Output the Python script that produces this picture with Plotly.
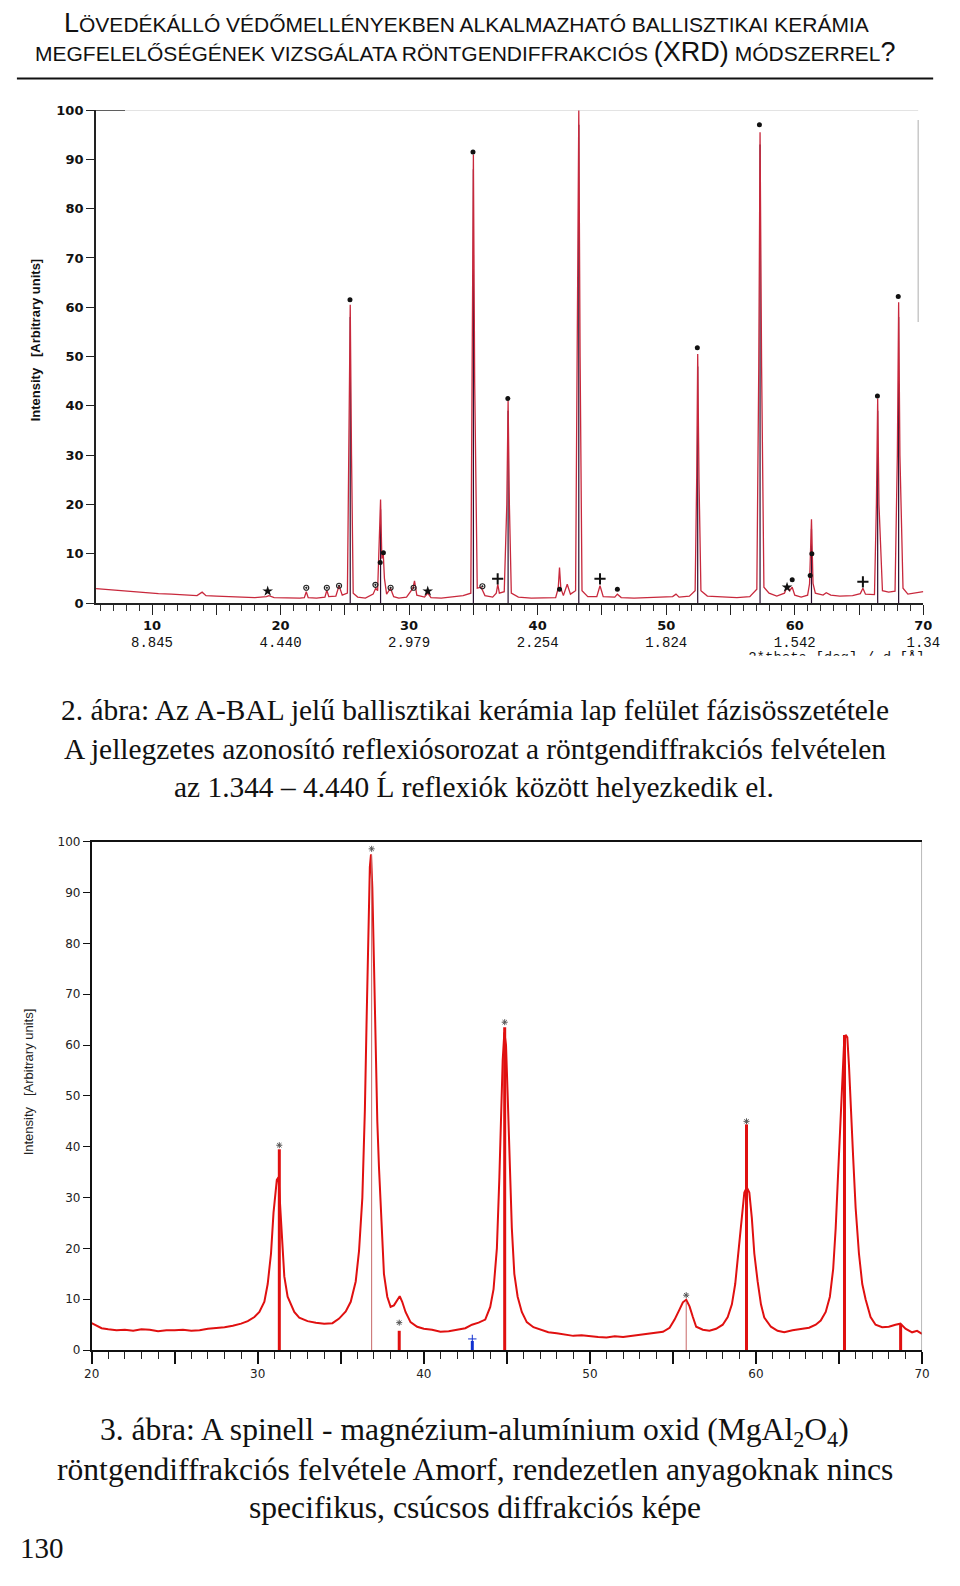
import plotly.graph_objects as go

# The page adds an 8 px body margin round the figure; the figure is sized so
# that figure + margins fit inside the 960 x 1586 window, and nothing is drawn
# outside the figure (which would enlarge the page).
OFF = 8
FW, FH = 960 - 2 * OFF, 1568
def px(v): return min(max((v - OFF) / FW, 0), 1)
def py(v): return min(max(1 - (v - OFF) / FH, 0), 1)

# ---------------- Chart 1 (2. ábra) data ----------------
ch1_theta = [5.65, 6.5, 7.5, 8.5, 9.5, 10.5, 11.5, 12.5, 13.5, 13.9, 14.2, 15.0, 16.0, 17.0, 18.0,
             18.9, 19.1, 19.5, 20.5, 21.5, 21.85, 22.0, 22.15, 22.8, 23.45, 23.6, 23.75, 24.3, 24.55,
             24.8, 25.2, 25.32, 25.42, 25.52, 25.65, 26.0, 26.6, 27.2, 27.4, 27.55, 27.68, 27.78,
             27.88, 27.98, 28.08, 28.25, 28.55, 28.8, 29.2, 29.8, 30.3, 30.42, 30.6, 31.2, 31.45,
             31.7, 32.5, 33.5, 34.2, 34.8, 34.92, 35.0, 35.1, 35.3, 35.6, 35.9, 36.5, 36.78, 36.9,
             37.02, 37.4, 37.6, 37.7, 37.8, 37.95, 38.5, 39.5, 40.5, 41.4, 41.6, 41.7, 41.8, 42.0,
             42.3, 42.55, 42.95, 43.1, 43.2, 43.3, 43.45, 43.9, 44.6, 44.85, 45.1, 46.0, 46.2, 46.5,
             47.5, 48.5, 49.5, 50.5, 50.76, 51.0, 51.8, 52.25, 52.37, 52.45, 52.55, 52.7, 53.2,
             54.5, 55.5, 56.5, 57.05, 57.2, 57.3, 57.42, 57.6, 58.0, 58.6, 59.2, 59.42, 59.6, 59.8,
             60.0, 60.5, 61.0, 61.15, 61.3, 61.42, 61.6, 62.2, 62.45, 62.8, 63.5, 64.5, 65.1, 65.3,
             65.5, 66.2, 66.35, 66.45, 66.55, 66.68, 66.82, 67.3, 67.8, 67.98, 68.08, 68.18, 68.3,
             68.42, 68.8, 69.4, 69.9, 70.0]
ch1_intensity = [2.9, 2.7, 2.5, 2.3, 2.1, 1.9, 1.8, 1.6, 1.5, 2.2, 1.5, 1.4, 1.3, 1.2, 1.1,
                 1.3, 1.5, 1.1, 1.0, 1.0, 1.1, 2.3, 1.1, 1.0, 1.2, 2.6, 1.3, 1.4, 3.5,
                 1.6, 2.0, 30, 60.5, 30, 2.0, 1.2, 1.0, 1.8, 3.0, 2.5, 12, 21,
                 9, 10.5, 5, 1.8, 3.0, 1.3, 1.0, 1.2, 3.0, 4.5, 1.6, 1.2, 2.0,
                 1.1, 1.0, 1.3, 1.5, 2.0, 45, 91, 45, 3.0, 3.2, 1.5, 1.2, 2.0, 3.8,
                 2.0, 2.3, 20, 41, 20, 2.0, 1.2, 1.0, 1.0, 1.1, 3.0, 7.2, 3.0, 1.5,
                 3.8, 1.8, 2.5, 50, 100, 50, 2.5, 1.3, 1.3, 3.5, 1.3, 1.2, 1.8, 1.1,
                 1.0, 1.1, 1.2, 1.3, 1.8, 1.2, 1.4, 2.5, 25, 50.5, 25, 2.5, 1.4,
                 1.2, 1.1, 1.3, 2.8, 48, 95.5, 48, 3.2, 2.0, 1.4, 2.0, 3.4, 2.5, 3.2,
                 1.6, 1.2, 1.6, 3.9, 17, 4.0, 2.0, 1.6, 2.1, 1.6, 1.4, 1.5, 1.9, 3.0,
                 1.8, 1.7, 20, 41.5, 20, 13, 2.5, 2.2, 2.4, 30, 61, 30, 14,
                 3.0, 1.8, 2.0, 2.3, 2.3]

ch1_stick_theta = [25.42, 27.78, 35.0, 37.7, 43.2, 52.45, 57.3, 61.3, 66.45, 68.08]
ch1_stick_height = [58, 19, 88, 39, 97, 48, 93, 15, 39, 58]

ch1_dot_theta = [25.40, 27.75, 28.0, 34.97, 37.68, 41.7, 43.15, 46.2, 52.42, 57.25, 59.8, 61.2, 61.33, 66.43, 68.05]
ch1_dot_int = [61.5, 8.2, 10.2, 91.5, 41.5, 2.8, 101.5, 2.8, 51.8, 97.0, 4.7, 5.6, 10.0, 42.0, 62.2]
ch1_circ_theta = [22.0, 23.6, 24.55, 27.38, 28.56, 30.35, 35.7]
ch1_circ_int = [3.1, 3.1, 3.5, 3.7, 3.1, 3.1, 3.4]
ch1_star_theta = [19.0, 31.45, 59.4]
ch1_star_int = [2.4, 2.4, 3.2]
ch1_cross_theta = [36.89, 44.85, 65.3]
ch1_cross_int = [4.9, 4.9, 4.3]

ch1_tick_deg = [10, 20, 30, 40, 50, 60, 70]
ch1_tick_d = ["8.845", "4.440", "2.979", "2.254", "1.824", "1.542", "1.34"]

# ---------------- Chart 2 (3. ábra) data ----------------
ch2_theta = [20.0, 20.3, 20.6, 21.0, 21.5, 22.0, 22.5, 23.0, 23.5, 24.0, 24.5, 25.0, 25.5, 26.0,
             26.5, 27.0, 27.5, 28.0, 28.5, 29.0, 29.4, 29.8, 30.1, 30.4, 30.6, 30.8, 30.95, 31.05,
             31.15, 31.25, 31.35, 31.45, 31.6, 31.8, 32.0, 32.2, 32.5, 33.0, 33.5, 34.0, 34.5, 34.9,
             35.3, 35.6, 35.9, 36.1, 36.3, 36.45, 36.55, 36.65, 36.75, 36.82, 36.9, 37.0, 37.1, 37.2,
             37.3, 37.45, 37.6, 37.8, 38.0, 38.2, 38.4, 38.55, 38.7, 38.9, 39.2, 39.6, 40.0, 40.5,
             41.0, 41.5, 42.0, 42.5, 42.9, 43.3, 43.7, 44.0, 44.2, 44.4, 44.55, 44.65, 44.75, 44.85,
             44.95, 45.05, 45.15, 45.3, 45.45, 45.65, 45.9, 46.2, 46.6, 47.0, 47.5, 48.0, 48.5, 49.0,
             49.5, 50.0, 50.5, 51.0, 51.5, 52.0, 52.5, 53.0, 53.5, 54.0, 54.4, 54.8, 55.1, 55.4,
             55.6, 55.8, 56.0, 56.2, 56.4, 56.8, 57.2, 57.6, 58.0, 58.3, 58.55, 58.75, 58.95, 59.15,
             59.3, 59.45, 59.6, 59.75, 59.9, 60.1, 60.3, 60.5, 60.9, 61.3, 61.7, 62.2, 62.7, 63.2,
             63.6, 63.9, 64.2, 64.45, 64.65, 64.8, 64.95, 65.1, 65.2, 65.3, 65.4, 65.5, 65.6, 65.7,
             65.85, 66.0, 66.2, 66.4, 66.6, 66.9, 67.2, 67.6, 68.0, 68.4, 68.7, 69.0, 69.4, 69.7, 70.0]
ch2_intensity = [5.3, 4.8, 4.3, 4.1, 3.9, 4.0, 3.8, 4.1, 4.0, 3.7, 3.9, 3.9, 4.0, 3.8,
                 3.9, 4.2, 4.3, 4.5, 4.8, 5.2, 5.7, 6.5, 7.5, 9.5, 13.0, 19.0, 27, 31,
                 33.5, 34.0, 28, 21, 14.5, 10.5, 8.8, 7.5, 6.4, 5.7, 5.4, 5.2, 5.3, 6.2,
                 7.6, 9.5, 13.5, 19.5, 30, 47, 64, 82, 95, 97.5, 91, 76, 58, 45,
                 36, 24, 15, 10.5, 8.5, 8.8, 10.0, 10.6, 9.5, 7.5, 5.5, 4.6, 4.2, 4.0,
                 3.6, 3.7, 4.0, 4.3, 5.0, 5.4, 6.0, 8.5, 12, 20, 34, 46, 57, 62.5,
                 60, 50, 38, 24, 15, 10.5, 7.5, 5.5, 4.5, 4.0, 3.5, 3.3, 3.0, 2.8,
                 2.9, 2.7, 2.6, 2.5, 2.7, 2.6, 2.8, 2.9, 3.1, 3.3, 3.6, 4.4, 6.0, 8.0,
                 9.4, 9.9, 8.6, 6.5, 4.6, 4.0, 3.8, 4.2, 5.0, 6.5, 9.0, 13, 19.5, 27,
                 31, 32, 31, 26, 19, 13.5, 9.0, 6.4, 4.6, 3.8, 3.5, 3.9, 4.1, 4.4,
                 5.0, 5.8, 7.5, 10.5, 16, 24, 35, 47, 55, 60, 62, 61.5, 56, 48,
                 38, 28, 19, 13, 10, 6.5, 5.0, 4.5, 4.6, 5.0, 5.2, 4.2, 3.5, 3.8, 3.2]

ch2_red_stick_theta = [31.3, 38.52, 44.87, 59.43, 65.33, 68.71]
ch2_red_stick_height = [39.5, 3.8, 63.5, 44.4, 62.0, 5.0]
ch2_thin_stick_theta = [36.86, 55.8]
ch2_thin_stick_height = [97.5, 9.5]
ch2_blue_stick_theta = [42.92]
ch2_blue_stick_height = [1.8]
ch2_star_theta = [31.3, 36.86, 38.52, 44.87, 55.8, 59.43]
ch2_star_int = [40.3, 98.6, 5.4, 64.5, 10.8, 45.0]
ch2_plus_theta = [42.92]
ch2_plus_int = [2.2]

y_ticks = [0, 10, 20, 30, 40, 50, 60, 70, 80, 90, 100]
ch2_tick_deg = [20, 30, 40, 50, 60, 70]


def sticks(xs, hs):
    X, Y = [], []
    for x, h in zip(xs, hs):
        X += [x, x, None]
        Y += [0, h, None]
    return X, Y


fig = go.Figure()

# chart 1 traces
sx, sy = sticks(ch1_stick_theta, ch1_stick_height)
fig.add_trace(go.Scatter(x=sx, y=sy, mode="lines", line=dict(color="#2a1030", width=1.2),
                         xaxis="x", yaxis="y", hoverinfo="skip"))
fig.add_trace(go.Scatter(x=ch1_theta, y=ch1_intensity, mode="lines",
                         line=dict(color="#c8283c", width=1.3), xaxis="x", yaxis="y"))
fig.add_trace(go.Scatter(x=ch1_dot_theta, y=ch1_dot_int, mode="markers", cliponaxis=False,
                         marker=dict(symbol="circle", size=5, color="#111"), xaxis="x", yaxis="y"))
fig.add_trace(go.Scatter(x=ch1_circ_theta, y=ch1_circ_int, mode="markers", cliponaxis=False,
                         marker=dict(symbol="circle-open-dot", size=5, color="#222", line=dict(width=1.2)),
                         xaxis="x", yaxis="y"))
fig.add_trace(go.Scatter(x=ch1_star_theta, y=ch1_star_int, mode="markers", cliponaxis=False,
                         marker=dict(symbol="star", size=8, color="#111"), xaxis="x", yaxis="y"))
fig.add_trace(go.Scatter(x=ch1_cross_theta, y=ch1_cross_int, mode="markers", cliponaxis=False,
                         marker=dict(symbol="cross-thin", size=8, color="#111", line=dict(width=2, color="#111")),
                         xaxis="x", yaxis="y"))

# chart 2 traces
fig.add_trace(go.Scatter(x=ch2_theta, y=ch2_intensity, mode="lines",
                         line=dict(color="#e01010", width=2), xaxis="x2", yaxis="y2"))
sx, sy = sticks(ch2_thin_stick_theta, ch2_thin_stick_height)
fig.add_trace(go.Scatter(x=sx, y=sy, mode="lines", line=dict(color="#c86868", width=1),
                         xaxis="x2", yaxis="y2"))
sx, sy = sticks(ch2_red_stick_theta, ch2_red_stick_height)
fig.add_trace(go.Scatter(x=sx, y=sy, mode="lines", line=dict(color="#e01010", width=3),
                         xaxis="x2", yaxis="y2"))
sx, sy = sticks(ch2_blue_stick_theta, ch2_blue_stick_height)
fig.add_trace(go.Scatter(x=sx, y=sy, mode="lines", line=dict(color="#1030d0", width=3),
                         xaxis="x2", yaxis="y2"))
fig.add_trace(go.Scatter(x=ch2_star_theta, y=ch2_star_int, mode="markers", cliponaxis=False,
                         marker=dict(symbol="asterisk-open", size=5, color="#555", line=dict(color="#555", width=1)),
                         xaxis="x2", yaxis="y2"))
fig.add_trace(go.Scatter(x=ch2_plus_theta, y=ch2_plus_int, mode="markers", cliponaxis=False,
                         marker=dict(symbol="cross-thin-open", size=6, color="#1030d0", line=dict(color="#1030d0", width=1)),
                         xaxis="x2", yaxis="y2"))

# clipped axis label of chart 1 (cut by the bottom edge of the scanned picture)
fig.add_trace(go.Scatter(x=[0.603], y=[-0.12], mode="text", text=["2*theta [deg] / d [Å]"],
                         textfont=dict(family="Liberation Mono", size=14, color="#111"),
                         cliponaxis=True, xaxis="x3", yaxis="y3"))

ch1_ticktext = []
ch1_tickvals = []
for deg, d in zip(ch1_tick_deg, ch1_tick_d):
    ch1_tickvals.append(deg)
    ch1_ticktext.append("<b>%d</b><br><span style='font-family:Liberation Mono;font-size:14px'>%s</span>" % (deg, d))
for deg in ch1_tick_deg[:-1]:
    ch1_tickvals.append(deg + 5)
    ch1_ticktext.append("")

ch2_tickvals = []
ch2_ticktext = []
for deg in ch2_tick_deg:
    ch2_tickvals.append(deg)
    ch2_ticktext.append(str(deg))
for deg in ch2_tick_deg[:-1]:
    ch2_tickvals.append(deg + 5)
    ch2_ticktext.append("")

axis_common = dict(showgrid=False, zeroline=False, showline=True, ticks="outside")

fig.update_layout(
    width=FW, height=FH, margin=dict(l=0, r=0, t=0, b=0), showlegend=False,
    paper_bgcolor="white", plot_bgcolor="white",
    font=dict(family="DejaVu Sans", color="#111"),
    xaxis=dict(domain=[px(90), px(940)], range=[5.63, 70], anchor="y",
               linecolor="#222", linewidth=1.5, tickcolor="#222", tickwidth=1.2, ticklen=10,
               tickvals=ch1_tickvals, ticktext=ch1_ticktext, ticklabeloverflow="allow",
               tickfont=dict(family="DejaVu Sans", size=13, color="#111"),
               minor=dict(dtick=1, ticks="outside", ticklen=6, tickcolor="#333", tickwidth=1),
               **axis_common),
    yaxis=dict(domain=[py(601.7), py(104)], range=[0, 100], anchor="x",
               linecolor="#222", linewidth=1.5, tickcolor="#222", tickwidth=1.2, ticklen=8,
               tickvals=y_ticks, ticktext=["<b>%d</b>" % v for v in y_ticks],
               tickfont=dict(family="DejaVu Sans", size=13, color="#111"),
               **axis_common),
    xaxis2=dict(domain=[px(85.7), px(938.7)], range=[20, 70], anchor="y2",
                linecolor="#111", linewidth=1.5, tickcolor="#111", tickwidth=1.5, ticklen=12,
                mirror=True, ticklabeloverflow="allow",
                tickvals=ch2_tickvals, ticktext=ch2_ticktext,
                tickfont=dict(family="DejaVu Sans", size=12, color="#222"),
                minor=dict(dtick=1, ticks="outside", ticklen=7, tickcolor="#222", tickwidth=1.2),
                **axis_common),
    yaxis2=dict(domain=[py(1356), py(842.7)], range=[0, 100], anchor="x2",
                linecolor="#111", linewidth=1.5, tickcolor="#111", tickwidth=1.2, ticklen=7,
                tickvals=y_ticks, tickfont=dict(family="DejaVu Sans", size=12, color="#222"),
                **axis_common),
    xaxis3=dict(domain=[px(700), px(950)], range=[0, 1], visible=False, anchor="y3", fixedrange=True),
    yaxis3=dict(domain=[py(655), py(630)], range=[0, 1], visible=False, anchor="x3", fixedrange=True),
)

shapes = [
    # header rule
    dict(type="line", xref="paper", yref="paper", x0=0.001, x1=0.998, y0=py(72), y1=py(72),
         line=dict(color="#111", width=2)),
    # chart 1 faint top border and darker fragments
    dict(type="line", xref="x", yref="y", x0=5.63, x1=69.6, y0=100, y1=100,
         line=dict(color="#cfcfcf", width=1)),
    dict(type="line", xref="x", yref="y", x0=5.63, x1=7.9, y0=100, y1=100,
         line=dict(color="#333", width=1.2)),
    dict(type="line", xref="x", yref="y", x0=38.8, x1=48.8, y0=100.5, y1=100.5,
         line=dict(color="#444", width=1.2)),
    dict(type="line", xref="x", yref="y", x0=69.6, x1=69.6, y0=57, y1=98,
         line=dict(color="#bbb", width=1.2)),
    # chart 2 right border (grey)
    dict(type="line", xref="x2", yref="y2", x0=70, x1=70, y0=0, y1=100,
         line=dict(color="#888", width=1.2)),
]
fig.update_layout(shapes=shapes)

serif = "Liberation Serif"
sans = "Liberation Sans"
ann = []
def text(x, y, s, size, family, color="#111", angle=0, xanchor="center"):
    ann.append(dict(x=px(x), y=py(y), xref="paper", yref="paper", text=s, showarrow=False,
                    font=dict(family=family, size=size, color=color), textangle=angle,
                    xanchor=xanchor, yanchor="middle"))

text(471, 16, "<span style='font-size:27px'>L</span>ÖVEDÉKÁLLÓ VÉDŐMELLÉNYEKBEN ALKALMAZHATÓ BALLISZTIKAI KERÁMIA",
     21, sans)
text(470, 45, "MEGFELELŐSÉGÉNEK VIZSGÁLATA RÖNTGENDIFFRAKCIÓS <span style='font-size:27px'>(XRD)</span> MÓDSZERREL<span style='font-size:27px'>?</span>",
     21, sans)

text(28, 336, "<b>Intensity\u00a0\u00a0\u00a0[Arbitrary units]</b>", 13, sans, angle=-90)
text(21, 1085, "Intensity\u00a0\u00a0\u00a0[Arbitrary units]", 13, sans, color="#222", angle=-90)

text(479, 710, "2. ábra: Az A-BAL jelű ballisztikai kerámia lap felület fázisösszetétele", 29.4, serif)
text(479, 749, "A jellegzetes azonosító reflexiósorozat a röntgendiffrakciós felvételen", 29.4, serif)
text(478, 787, "az 1.344 – 4.440 Ĺ reflexiók között helyezkedik el.", 29.4, serif)

text(479, 1439, "3. ábra: A spinell - magnézium-alumínium oxid (MgAl<sub>2</sub>O<sub>4</sub>)", 31.6, serif)
text(479, 1477, "röntgendiffrakciós felvétele Amorf, rendezetlen anyagoknak nincs", 31.6, serif)
text(479, 1515, "specifikus, csúcsos diffrakciós képe", 31.6, serif)
text(10, 1556, "130", 29, serif, xanchor="left")

fig.update_layout(annotations=ann)

fig.write_html("out.html", config={"displayModeBar": False})
